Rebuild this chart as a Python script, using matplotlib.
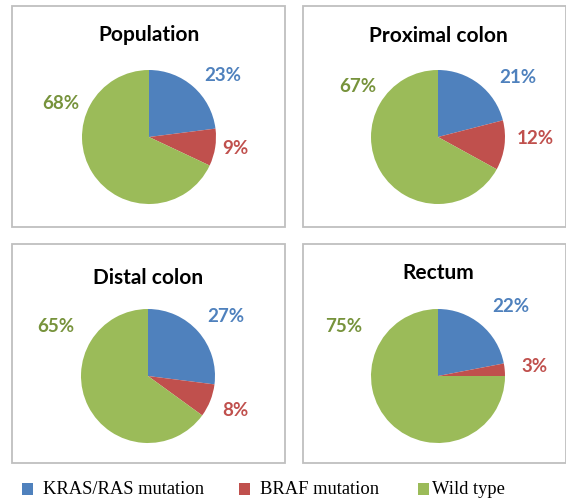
import matplotlib.pyplot as plt
from matplotlib.patches import Rectangle

# data
panels = ['Population', 'Proximal colon', 'Distal colon', 'Rectum']
kras = [23, 21, 27, 22]
braf = [9, 12, 8, 3]
wild = [68, 67, 65, 75]
series = ['KRAS/RAS mutation', 'BRAF mutation', 'Wild type']

colors = ['#4F81BD', '#C0504D', '#9BBB59']
label_colors = ['#4F81BD', '#C0504D', '#77933C']

W, H = 566, 503
fig = plt.figure(figsize=(W / 100, H / 100), dpi=100)

# layout in pixels: box (x0, y0, x1, y1), pie centre, title y, label spots
boxes = [(12, 6, 285, 227), (303, 6, 566, 227), (12, 244, 285, 463), (303, 244, 566, 463)]
centres = [(149, 137), (438, 137), (148, 376), (438, 376)]
title_y = [35, 36, 278, 273]
label_xy = [
    [(223, 76), (235, 148), (61, 103)],
    [(518, 77), (535, 138), (358, 86)],
    [(226, 317), (235, 410), (56, 327)],
    [(511, 307), (534, 367), (344, 327)],
]
R = 67


def fx(x):
    return x / W


def fy(y):
    return 1 - y / H


for i, name in enumerate(panels):
    x0, y0, x1, y1 = boxes[i]
    fig.add_artist(Rectangle((fx(x0), fy(y1)), fx(x1 - x0), (y1 - y0) / H,
                             transform=fig.transFigure, fill=False,
                             edgecolor='#BFBFBF', linewidth=1.3))
    cx, cy = centres[i]
    ax = fig.add_axes([fx(cx - R), fy(cy + R), 2 * R / W, 2 * R / H])
    vals = [kras[i], braf[i], wild[i]]
    ax.pie(vals, colors=colors, startangle=90, counterclock=False, radius=1,
           wedgeprops=dict(linewidth=0))
    ax.set_xlim(-1, 1)
    ax.set_ylim(-1, 1)
    ax.axis('off')
    for j, v in enumerate(vals):
        lx, ly = label_xy[i][j]
        fig.text(fx(lx), fy(ly), f'{v}%', color=label_colors[j], fontsize=13.5,
                 fontweight='bold', family='Lato', ha='center', va='center')
    fig.text(fx(cx), fy(title_y[i]), name, fontsize=15, fontweight='bold',
             family='Lato', ha='center', va='center', color='black')

# legend
leg_sq = [22, 239, 418]
leg_tx = [43, 260, 432]
for k, s in enumerate(series):
    fig.add_artist(Rectangle((fx(leg_sq[k]), fy(495)), 11 / W, 12 / H,
                             transform=fig.transFigure, facecolor=colors[k],
                             edgecolor='none'))
    fig.text(fx(leg_tx[k]), fy(489), s, fontsize=13.3, family='Liberation Serif',
             ha='left', va='center', color='black')

fig.savefig('out.png', dpi=100)
